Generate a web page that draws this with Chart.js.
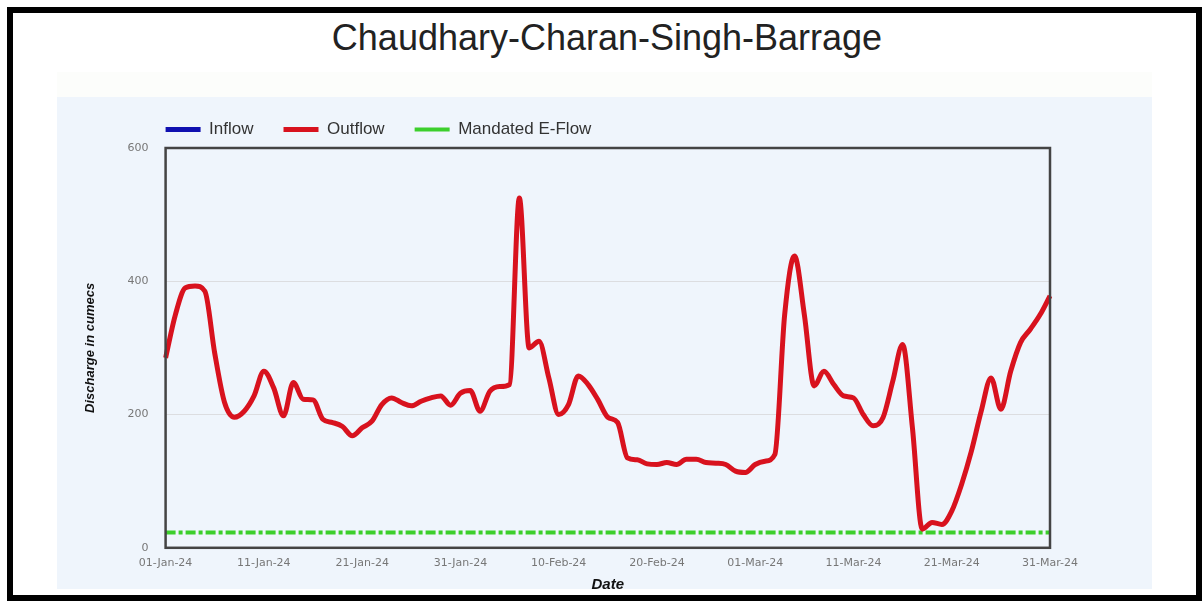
<!DOCTYPE html>
<html>
<head>
<meta charset="utf-8">
<title>Chaudhary-Charan-Singh-Barrage</title>
<script src="https://cdn.jsdelivr.net/npm/chart.js@4.4.1/dist/chart.umd.min.js"></script>
<style>
  html, body { margin: 0; padding: 0; background: #fff; }
  body { width: 1202px; height: 601px; position: relative; overflow: hidden; font-family: "Liberation Sans", Arial, sans-serif; }
  .frame { position: absolute; left: 7px; top: 7px; width: 1195px; height: 594px; border: 6px solid #000; box-sizing: border-box; }
  .title { position: absolute; left: 0; top: 17px; width: 1214px; text-align: center; font-size: 36px; color: #222; }
  .band { position: absolute; left: 57px; top: 72px; width: 1095px; height: 25px; background: #fcfdfb; }
  .panel { position: absolute; left: 57px; top: 97px; width: 1095px; height: 492px; background: #eff5fc; }
  #flowChart { position: absolute; left: 57px; top: 79px; display: block; }
</style>
</head>
<body>
<div class="frame"></div>
<div class="title">Chaudhary-Charan-Singh-Barrage</div>
<div class="band"></div>
<div class="panel"></div>
<canvas id="flowChart" width="1095" height="517"></canvas>
<script>
// daily dates, 01-Jan-24 .. 31-Mar-24
const months = ['Jan', 'Feb', 'Mar'];
const daysInMonth = [31, 29, 31];
const dates = [];
months.forEach((m, i) => {
  for (let d = 1; d <= daysInMonth[i]; d++) {
    dates.push(String(d).padStart(2, '0') + '-' + m + '-24');
  }
});

const tickLabels = ['01-Jan-24', '11-Jan-24', '21-Jan-24', '31-Jan-24', '10-Feb-24',
  '20-Feb-24', '01-Mar-24', '11-Mar-24', '21-Mar-24', '31-Mar-24'];

const inflow = [];

const outflow = [
  285, 350, 390, 393, 385, 292, 218, 196, 205, 228,   // 01-10 Jan
  265, 240, 198, 248, 223, 222, 193, 188, 182, 168,   // 11-20 Jan
  180, 190, 215, 225, 218, 213, 220, 225, 228, 214,   // 21-30 Jan
  232, 236, 205, 235, 242, 245, 525, 300, 310, 255,   // 31 Jan-09 Feb
  200, 215, 258, 245, 222, 196, 188, 135, 132, 126,   // 10-19 Feb
  125, 128, 125, 133, 133, 128, 127, 125, 115, 113,   // 20-29 Feb
  125, 130, 140, 350, 438, 350, 243, 265, 245, 228,   // 01-10 Mar
  225, 200, 183, 195, 250, 305, 180, 28, 38, 35,      // 11-20 Mar
  55, 95, 145, 205, 255, 208, 265, 308, 328, 350,     // 21-30 Mar
  378                                                 // 31 Mar
];

const eFlowValue = 23;
const eFlow = [
  { x: '01-Jan-24', y: eFlowValue },
  { x: '31-Mar-24', y: eFlowValue }
];

const plotFrame = {
  id: 'plotFrame',
  afterDatasetsDraw(chart) {
    const { ctx, chartArea: a } = chart;
    ctx.save();
    ctx.strokeStyle = '#444';
    ctx.lineWidth = 2.5;
    ctx.strokeRect(a.left, a.top, a.right - a.left, a.bottom - a.top);
    ctx.restore();
  }
};

// keep legend starting at the plot's left edge
const legendAtPlot = {
  id: 'legendAtPlot',
  afterLayout(chart) {
    chart.legend.left = chart.chartArea.left - chart.options.plugins.legend.labels.padding;
  }
};

const ctx = document.getElementById('flowChart').getContext('2d');
const flowChart = new Chart(ctx, {
  type: 'line',
  data: {
    labels: dates,
    datasets: [
      {
        label: 'Inflow',
        data: inflow,
        borderColor: '#1010b0',
        backgroundColor: '#1010b0',
        borderWidth: 5,
        pointRadius: 0
      },
      {
        label: 'Outflow',
        data: outflow,
        borderColor: '#d8121e',
        backgroundColor: '#d8121e',
        borderWidth: 5,
        pointRadius: 0,
        cubicInterpolationMode: 'monotone'
      },
      {
        label: 'Mandated E-Flow',
        data: eFlow,
        borderColor: '#3ccf2c',
        backgroundColor: '#3ccf2c',
        borderWidth: 4,
        borderDash: [10, 3, 4, 3],
        pointRadius: 0
      }
    ]
  },
  options: {
    responsive: false,
    animation: false,
    layout: { padding: { top: 12, left: 26, right: 102, bottom: 2 } },
    plugins: {
      legend: {
        position: 'top',
        align: 'start',
        labels: {
          usePointStyle: true,
          pointStyle: 'line',
          pointStyleWidth: 35,
          boxHeight: 16,
          padding: 30,
          color: '#333',
          font: { family: 'Liberation Sans', size: 17 }
        }
      },
      tooltip: { enabled: false }
    },
    scales: {
      x: {
        grid: { display: false, drawTicks: false },
        border: { display: false },
        ticks: {
          autoSkip: false,
          maxRotation: 0,
          minRotation: 0,
          padding: 9,
          color: '#777',
          font: { family: 'DejaVu Sans', size: 11 },
          callback(value, index) {
            const lbl = this.getLabelForValue(value);
            return tickLabels.includes(lbl) ? lbl : '';
          }
        },
        title: {
          display: true,
          text: 'Date',
          color: '#111',
          padding: { top: -3, bottom: 0 },
          font: { family: 'Liberation Sans', size: 15, weight: 'bold', style: 'italic' }
        }
      },
      y: {
        min: 0,
        max: 600,
        grid: { color: '#dcdde0', drawTicks: false },
        border: { display: false },
        ticks: {
          stepSize: 200,
          padding: 17,
          color: '#777',
          font: { family: 'DejaVu Sans', size: 11 }
        },
        title: {
          display: true,
          text: 'Discharge in cumecs',
          color: '#111',
          padding: { top: 0, bottom: 12 },
          font: { family: 'Liberation Sans', size: 13, weight: 'bold', style: 'italic' }
        }
      }
    }
  },
  plugins: [plotFrame, legendAtPlot]
});
</script>
</body>
</html>
